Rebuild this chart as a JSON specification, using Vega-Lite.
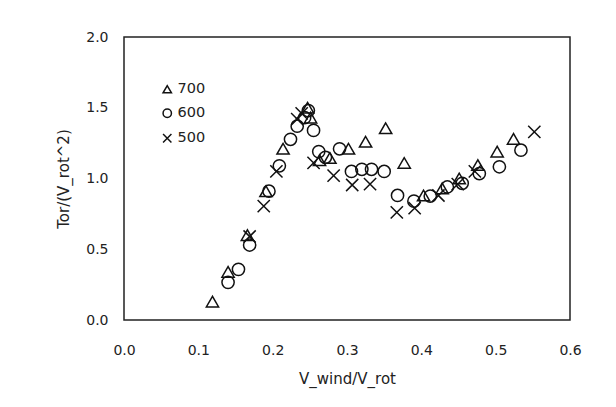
{
  "$schema": "https://vega.github.io/schema/vega-lite/v6.json",
  "autosize": {"type": "none"},
  "padding": {"left": 124, "top": 37, "right": 46, "bottom": 87},
  "width": 446,
  "height": 283,
  "background": "white",
  "config": {
    "view": {"stroke": "#222", "strokeWidth": 1.5},
    "font": "DejaVu Sans",
    "axis": {"labelFont": "DejaVu Sans", "titleFont": "DejaVu Sans", "labelFontSize": 14, "titleFontSize": 15, "titleFontWeight": "normal", "labelColor": "#222", "titleColor": "#222", "ticks": false, "grid": false, "domain": false}
  },
  "data": {"values": [
    {"s": "700", "x": 0.119, "y": 0.13},
    {"s": "700", "x": 0.140, "y": 0.34},
    {"s": "700", "x": 0.166, "y": 0.60},
    {"s": "700", "x": 0.191, "y": 0.91},
    {"s": "700", "x": 0.214, "y": 1.21},
    {"s": "700", "x": 0.247, "y": 1.50},
    {"s": "700", "x": 0.251, "y": 1.43},
    {"s": "700", "x": 0.263, "y": 1.13},
    {"s": "700", "x": 0.277, "y": 1.145},
    {"s": "700", "x": 0.302, "y": 1.21},
    {"s": "700", "x": 0.325, "y": 1.26},
    {"s": "700", "x": 0.352, "y": 1.355},
    {"s": "700", "x": 0.377, "y": 1.11},
    {"s": "700", "x": 0.403, "y": 0.88},
    {"s": "700", "x": 0.428, "y": 0.93},
    {"s": "700", "x": 0.451, "y": 1.00},
    {"s": "700", "x": 0.476, "y": 1.095},
    {"s": "700", "x": 0.502, "y": 1.19},
    {"s": "700", "x": 0.524, "y": 1.28},
    {"s": "600", "x": 0.140, "y": 0.266},
    {"s": "600", "x": 0.154, "y": 0.358},
    {"s": "600", "x": 0.169, "y": 0.53},
    {"s": "600", "x": 0.195, "y": 0.91},
    {"s": "600", "x": 0.209, "y": 1.09},
    {"s": "600", "x": 0.224, "y": 1.277},
    {"s": "600", "x": 0.233, "y": 1.37},
    {"s": "600", "x": 0.243, "y": 1.43},
    {"s": "600", "x": 0.248, "y": 1.48},
    {"s": "600", "x": 0.255, "y": 1.34},
    {"s": "600", "x": 0.262, "y": 1.19},
    {"s": "600", "x": 0.271, "y": 1.15},
    {"s": "600", "x": 0.290, "y": 1.21},
    {"s": "600", "x": 0.306, "y": 1.05},
    {"s": "600", "x": 0.320, "y": 1.065},
    {"s": "600", "x": 0.333, "y": 1.065},
    {"s": "600", "x": 0.350, "y": 1.05},
    {"s": "600", "x": 0.368, "y": 0.88},
    {"s": "600", "x": 0.390, "y": 0.84},
    {"s": "600", "x": 0.412, "y": 0.876},
    {"s": "600", "x": 0.435, "y": 0.94},
    {"s": "600", "x": 0.455, "y": 0.966},
    {"s": "600", "x": 0.478, "y": 1.035},
    {"s": "600", "x": 0.505, "y": 1.083},
    {"s": "600", "x": 0.534, "y": 1.20},
    {"s": "500", "x": 0.169, "y": 0.59},
    {"s": "500", "x": 0.188, "y": 0.805},
    {"s": "500", "x": 0.205, "y": 1.05},
    {"s": "500", "x": 0.233, "y": 1.42},
    {"s": "500", "x": 0.239, "y": 1.46},
    {"s": "500", "x": 0.255, "y": 1.11},
    {"s": "500", "x": 0.282, "y": 1.02},
    {"s": "500", "x": 0.307, "y": 0.954},
    {"s": "500", "x": 0.331, "y": 0.96},
    {"s": "500", "x": 0.367, "y": 0.76},
    {"s": "500", "x": 0.391, "y": 0.79},
    {"s": "500", "x": 0.423, "y": 0.88},
    {"s": "500", "x": 0.449, "y": 0.96},
    {"s": "500", "x": 0.472, "y": 1.05},
    {"s": "500", "x": 0.552, "y": 1.33}
  ]},
  "mark": {"type": "point", "filled": false, "size": 150, "strokeWidth": 1.5, "opacity": 1},
  "encoding": {
    "x": {"field": "x", "type": "quantitative", "title": "V_wind/V_rot",
      "scale": {"domain": [0, 0.6], "nice": false, "zero": true},
      "axis": {"values": [0, 0.1, 0.2, 0.3, 0.4, 0.5, 0.6], "format": ".1f", "labelPadding": 23, "titlePadding": 14, "labelFlush": false}},
    "y": {"field": "y", "type": "quantitative", "title": "Tor/(V_rot^2)",
      "scale": {"domain": [0, 2], "nice": false},
      "axis": {"values": [0, 0.5, 1, 1.5, 2], "format": ".1f", "labelPadding": 16, "titlePadding": 14, "labelFlush": false}},
    "shape": {"field": "s", "type": "nominal",
      "scale": {"domain": ["700", "600", "500"], "range": ["triangle-up", "circle", "M-1,-1L1,1M1,-1L-1,1"]},
      "legend": {"title": null, "orient": "none", "legendX": 36, "legendY": 45, "labelFontSize": 14.5, "labelFont": "DejaVu Sans", "labelColor": "#222", "symbolSize": 70, "symbolStrokeWidth": 1.5, "symbolStrokeColor": "#111", "symbolFillColor": "transparent", "rowPadding": 9, "labelOffset": 3}},
    "color": {"value": "#111"}
  }
}
